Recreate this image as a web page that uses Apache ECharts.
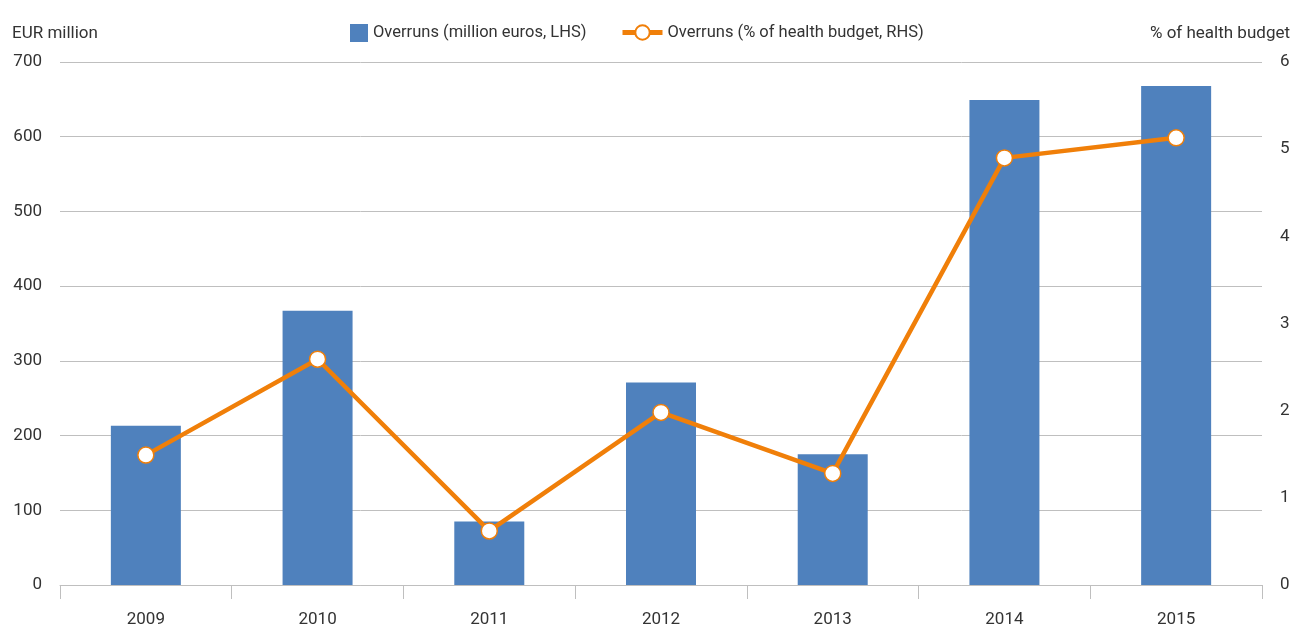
<!DOCTYPE html>
<html>
<head>
<meta charset="utf-8">
<title>Overruns</title>
<script src="https://cdn.jsdelivr.net/npm/echarts@6/dist/echarts.min.js"></script>
<style>
    html, body { margin: 0; padding: 0; background: #fff; }
    #chart { width: 1293px; height: 628px; }
</style>
</head>
<body>
<div id="chart"></div>
<script>
    // categories and values
    const years = ['2009', '2010', '2011', '2012', '2013', '2014', '2015']
    const overrunsEur = [213, 367, 85, 271, 175, 649, 668]
    const overrunsPct = [1.49, 2.59, 0.62, 1.98, 1.28, 4.9, 5.13]
    const leftTicks = { min: 0, max: 700, interval: 100 }
    const rightTicks = { min: 0, max: 6, interval: 1 }

    const FONT = 'Roboto, "Noto Sans", sans-serif'
    const TEXT = '#333'
    const GRID = '#bfbfbf'
    const ORANGE = '#f07f09'

    const chart = echarts.init(document.getElementById('chart'))
    chart.setOption({
        animation: false,
        textStyle: { fontFamily: FONT, color: TEXT },
        grid: { left: 60, right: 31, top: 62, bottom: 42 },
        legend: [
            {
                left: 345, top: 19,
                icon: 'rect',
                itemWidth: 18, itemHeight: 18, itemGap: 10,
                textStyle: { fontFamily: FONT, fontSize: 16.5, color: TEXT },
                data: ['Overruns (million euros, LHS)']
            },
            {
                left: 615, top: 19,
                itemWidth: 40, itemHeight: 18,
                lineStyle: { width: 5 },
                textStyle: { fontFamily: FONT, fontSize: 16.5, color: TEXT },
                data: ['Overruns (% of health budget, RHS)']
            }
        ],
        xAxis: {
            type: 'category',
            data: years,
            boundaryGap: true,
            axisLine: { lineStyle: { color: GRID, width: 1 } },
            axisTick: { show: true, length: 14, lineStyle: { color: GRID } },
            axisLabel: { color: TEXT, fontSize: 17, margin: 26 }
        },
        yAxis: [
            {
                type: 'value',
                min: leftTicks.min, max: leftTicks.max, interval: leftTicks.interval,
                name: 'EUR million',
                nameLocation: 'end',
                nameGap: 20,
                nameTextStyle: { color: TEXT, fontSize: 17, align: 'left', padding: [0, 0, 0, -48] },
                axisLine: { show: false },
                axisTick: { show: false },
                axisLabel: { color: TEXT, fontSize: 17, margin: 18 },
                splitLine: { lineStyle: { color: GRID, width: 1 } }
            },
            {
                type: 'value',
                min: rightTicks.min, max: rightTicks.max, interval: rightTicks.interval,
                name: '% of health budget',
                nameLocation: 'end',
                nameGap: 20,
                nameTextStyle: { color: TEXT, fontSize: 17, align: 'right', padding: [0, -28, 0, 0] },
                axisLine: { show: false },
                axisTick: { show: false },
                axisLabel: { color: TEXT, fontSize: 17, margin: 18 },
                splitLine: { show: false }
            }
        ],
        series: [
            {
                name: 'Overruns (million euros, LHS)',
                type: 'bar',
                yAxisIndex: 0,
                data: overrunsEur,
                barWidth: 70,
                itemStyle: { color: '#4f81bd' }
            },
            {
                name: 'Overruns (% of health budget, RHS)',
                type: 'line',
                yAxisIndex: 1,
                data: overrunsPct,
                symbol: 'circle',
                symbolSize: 16,
                lineStyle: { color: ORANGE, width: 4.5 },
                itemStyle: { color: '#fff', borderColor: ORANGE, borderWidth: 1.5 }
            }
        ]
    })
</script>
</body>
</html>
